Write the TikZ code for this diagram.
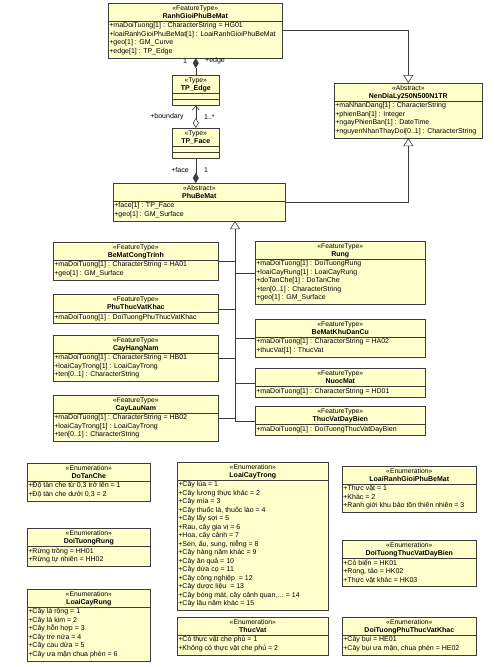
\documentclass[tikz,border=0pt]{standalone}
\usepackage{fontspec}
\setmainfont{Liberation Sans}
\usetikzlibrary{arrows.meta,calc}
\definecolor{umlfill}{RGB}{255,255,204}
\definecolor{umlline}{RGB}{60,60,60}
\tikzset{
  clsbox/.style={draw=umlline, fill=umlfill, line width=0.6pt, inner sep=0pt, rectangle},
  stereo/.style={font=\fontsize{6.8}{8.5}\selectfont, inner sep=0pt, anchor=base},
  clsname/.style={font=\fontsize{7}{8.5}\selectfont\bfseries, inner sep=0pt, anchor=base},
  attrs/.style={font=\fontsize{7}{8.5}\selectfont, inner sep=0pt, align=left, anchor=north west, execute at begin node=\strut},
  sepline/.style={draw=umlline, line width=0.5pt},
  conn/.style={draw=umlline, line width=0.6pt},
  gen/.style={conn, -{Triangle[open, length=8pt, width=10pt, fill=white]}},
  lbl/.style={font=\fontsize{7}{8.5}\selectfont, inner sep=0pt},
}
% #1 id, #2 left x, #3 top y, #4 width, #5 number of rows, #6 stereotype, #7 name, #8 rows
\newcommand{\umlcls}[8]{%
  \pgfmathsetmacro{\clsh}{18+8.5*#5+2.5}%
  \node[clsbox, minimum width=#4pt, minimum height=\clsh pt, anchor=north west] (#1) at (#2,#3) {};
  \node[stereo] (#1-st) at ($(#1.north)+(0,7.5)$) {«#6»};
  \node[clsname] (#1-nm) at ($(#1.north)+(0,15.5)$) {#7};
  \draw[sepline] ($(#1.north west)+(0,18)$) -- ($(#1.north east)+(0,18)$);
  \node[attrs] (#1-at) at ($(#1.north west)+(1.2,19.5)$) {#8};
}
\begin{document}
\begin{tikzpicture}[x=1pt,y=-1pt]
\fill[white] (0,0) rectangle (493,667);
\useasboundingbox (0,0) rectangle (493,667);

% ---- top part
\umlcls{rgp}{108}{3}{174}{4}{FeatureType}{RanhGioiPhuBeMat}{+maDoiTuong[1] : CharacterString = HG01\\+loaiRanhGioiPhuBeMat[1] : LoaiRanhGioiPhuBeMat\\+geo[1] : GM\_Curve\\+edge[1] : TP\_Edge}
\umlcls{ndl}{334}{83}{148}{4}{Abstract}{NenDiaLy250N500N1TR}{+maNhanDang[1] : CharacterString\\+phienBan[1] : Integer\\+ngayPhienBan[1] : DateTime\\+nguyenNhanThayDoi[0..1] : CharacterString}
\umlcls{pbm}{113}{183}{172}{2}{Abstract}{PhuBeMat}{+face[1] : TP\_Face\\+geo[1] : GM\_Surface}

% TP_Edge / TP_Face
\node[clsbox, minimum width=47pt, minimum height=30pt, anchor=north west] (tpe) at (172,75) {};
\node[stereo] (tpe-st) at ($(tpe.north)+(0,7.5)$) {«Type»};
\node[clsname] (tpe-nm) at ($(tpe.north)+(0,15.5)$) {TP\_Edge};
\draw[sepline] ($(tpe.north west)+(0,18)$) -- ($(tpe.north east)+(0,18)$);
\draw[sepline] ($(tpe.north west)+(0,24)$) -- ($(tpe.north east)+(0,24)$);
\node[clsbox, minimum width=47pt, minimum height=30pt, anchor=north west] (tpf) at (172,128) {};
\node[stereo] (tpf-st) at ($(tpf.north)+(0,7.5)$) {«Type»};
\node[clsname] (tpf-nm) at ($(tpf.north)+(0,15.5)$) {TP\_Face};
\draw[sepline] ($(tpf.north west)+(0,18)$) -- ($(tpf.north east)+(0,18)$);
\draw[sepline] ($(tpf.north west)+(0,24)$) -- ($(tpf.north east)+(0,24)$);

% ---- feature types, left column
\umlcls{bmct}{53}{242}{165}{2}{FeatureType}{BeMatCongTrinh}{+maDoiTuong[1] : CharacterString = HA01\\+geo[1] : GM\_Surface}
\umlcls{ptvk}{53}{294}{165}{1}{FeatureType}{PhuThucVatKhac}{+maDoiTuong[1] : DoiTuongPhuThucVatKhac}
\umlcls{chn}{53}{335}{165}{3}{FeatureType}{CayHangNam}{+maDoiTuong[1] : CharacterString = HB01\\+loaiCayTrong[1] : LoaiCayTrong\\+ten[0..1] : CharacterString}
\umlcls{cln}{53}{395}{165}{3}{FeatureType}{CayLauNam}{+maDoiTuong[1] : CharacterString = HB02\\+loaiCayTrong[1] : LoaiCayTrong\\+ten[0..1] : CharacterString}

% ---- feature types, right column
\umlcls{rung}{255}{241}{170}{5}{FeatureType}{Rung}{+maDoiTuong[1] : DoiTuongRung\\+loaiCayRung[1] : LoaiCayRung\\+doTanChe[1] : DoTanChe\\+ten[0..1] : CharacterString\\+geo[1] : GM\_Surface}
\umlcls{bmkdc}{255}{319}{170}{2}{FeatureType}{BeMatKhuDanCu}{+maDoiTuong[1] : CharacterString = HA02\\+thucVat[1] : ThucVat}
\umlcls{nm}{255}{368}{170}{1}{FeatureType}{NuocMat}{+maDoiTuong[1] : CharacterString = HD01}
\umlcls{tvdb}{255}{406}{170}{1}{FeatureType}{ThucVatDayBien}{+maDoiTuong[1] : DoiTuongThucVatDayBien}

% ---- enumerations
\umlcls{edtc}{27}{463}{123}{2}{Enumeration}{DoTanChe}{+Độ tàn che từ 0,3 trở lên = 1\\+Độ tàn che dưới 0,3 = 2}
\umlcls{edtr}{27}{528}{123}{2}{Enumeration}{DoiTuongRung}{+Rừng trồng = HH01\\+Rừng tự nhiên = HH02}
\umlcls{elcr}{27}{589}{123}{6}{Enumeration}{LoaiCayRung}{+Cây lá rộng = 1\\+Cây lá kim = 2\\+Cây hỗn hợp = 3\\+Cây tre nứa = 4\\+Cây cau dừa = 5\\+Cây ưa mặn chua phèn = 6}
\umlcls{elct}{177}{462}{151}{15}{Enumeration}{LoaiCayTrong}{+Cây lúa = 1\\+Cây lương thực khác = 2\\+Cây mía = 3\\+Cây thuốc lá, thuốc lào = 4\\+Cây lấy sợi = 5\\+Rau, cây gia vị = 6\\+Hoa, cây cảnh = 7\\+Sen, ấu, sung, niễng = 8\\+Cây hàng năm khác = 9\\+Cây ăn quả = 10\\+Cây dừa cọ = 11\\+Cây công nghiệp\ \ = 12\\+Cây dược liệu\ \ = 13\\+Cây bóng mát, cây cảnh quan,... = 14\\+Cây lâu năm khác = 15}
\umlcls{etv}{177}{617}{151}{2}{Enumeration}{ThucVat}{+Có thực vật che phủ = 1\\+Không có thực vật che phủ = 2}
\umlcls{elrg}{342}{466}{134}{3}{Enumeration}{LoaiRanhGioiPhuBeMat}{+Thực vật = 1\\+Khác = 2\\+Ranh giới khu bảo tồn thiên nhiên = 3}
\umlcls{edtvdb}{342}{540}{134}{3}{Enumeration}{DoiTuongThucVatDayBien}{+Cỏ biển = HK01\\+Rong, tảo = HK02\\+Thực vật khác = HK03}
\umlcls{edptvk}{342}{617}{134}{2}{Enumeration}{DoiTuongPhuThucVatKhac}{+Cây bụi = HE01\\+Cây bụi ưa mặn, chua phèn = HE02}

% ---- connectors
\draw[conn, -{Diamond[length=10pt,width=6pt]}] (tpe.north) -- (tpe.north |- rgp.south);
\node[lbl] (m-edge1) at (185,61) {1};
\node[lbl, anchor=west] (m-edge) at (205,61) {+edge};

\draw[conn, {Straight Barb[length=4pt,width=7pt]}-{Diamond[open,length=10pt,width=6pt,fill=white]}] (tpe.south) -- (tpf.north);
\node[lbl] (m-bnd) at (167,117) {+boundary};
\node[lbl, anchor=west] (m-bndm) at (204,117) {1..*};

\draw[conn, -{Diamond[length=10pt,width=6pt]}] (tpf.south) -- (tpf.south |- pbm.north);
\node[lbl] (m-face) at (180,170) {+face};
\node[lbl] (m-face1) at (206,170) {1};

\draw[gen] (rgp.east) -| (ndl.north);
\draw[gen] (pbm.east) -| (ndl.south);

\coordinate (tx) at (235,0);
\draw[gen] (tx |- tvdb.west) -- (tx |- pbm.south);
\foreach \c in {bmct,ptvk,chn,cln}{\draw[conn] (\c.east) -- (tx |- \c.east);}
\foreach \c in {rung,bmkdc,nm,tvdb}{\draw[conn] (\c.west) -- (tx |- \c.west);}
\end{tikzpicture}
\end{document}
